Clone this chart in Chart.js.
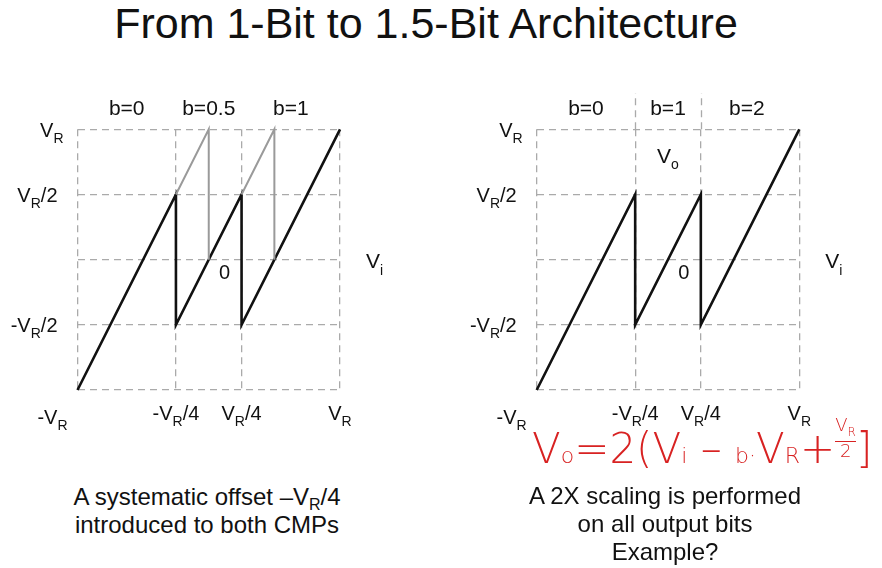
<!DOCTYPE html>
<html lang="en">
<head>
  <meta charset="UTF-8" />
  <title>From 1-Bit to 1.5-Bit Architecture</title>
  <script src="https://cdn.jsdelivr.net/npm/chart.js"></script>
  <style>
    * { margin: 0; padding: 0; box-sizing: border-box; }
    body { width: 882px; height: 568px; background: #fff; font-family: "Liberation Sans", Arial, sans-serif; color: #111; position: relative; overflow: hidden; }
    .title { position: absolute; left: 0; top: -1px; width: 852px; text-align: center; font-size: 43px; line-height: 48px; }
    .box { position: absolute; top: 85px; width: 441px; height: 350px; }
    .box.left { left: 0; }
    .box.right { left: 441px; }
    .caption { position: absolute; width: 420px; text-align: center; font-size: 24px; line-height: 28px; }
    .caption sub { font-size: 16px; vertical-align: -5px; line-height: 0; }
    .cap-left { left: -3px; top: 483px; }
    .cap-right { left: 455px; top: 482px; }
    .ink { position: absolute; left: 532px; top: 416px; color: #d82222; font-family: "DejaVu Sans", sans-serif; font-weight: 300; white-space: nowrap; }
    .ink .big { font-size: 42px; }
    .ink .sm { font-size: 22px; }
    .ink .frac { display: inline-block; vertical-align: 6px; font-size: 18px; line-height: 18px; text-align: center; }
    .ink .frac .den { display: block; border-top: 1.5px solid #d82222; }
  </style>
</head>
<body>
  <div class="title">From 1-Bit to 1.5-Bit Architecture</div>
  <div class="box left"><canvas id="leftChart"></canvas></div>
  <div class="box right"><canvas id="rightChart"></canvas></div>
  <div class="ink"><span class="big">V</span><span class="sm">o</span><span class="big">=2(V</span><span class="sm">i</span><span class="big"> – </span><span class="sm">b·</span><span class="big">V</span><span class="sm">R</span><span class="big">+</span><span class="frac">V<sub style="font-size:12px">R</sub><span class="den">2</span></span><span class="big">]</span></div>
  <div class="caption cap-left">A systematic offset –V<sub>R</sub>/4<br>introduced to both CMPs</div>
  <div class="caption cap-right">A 2X scaling is performed<br>on all output bits<br>Example?</div>
  <script>
    // axis ticks and their labels ("_R" means subscript R)
    const xTicks = [-1, -0.25, 0.25, 1];
    const xTickLabels = ['-V_R', '-V_R/4', 'V_R/4', 'V_R'];
    const yTicks = [-1, -0.5, 0, 0.5, 1];
    const yTickLabels = ['', '-V_R/2', '', 'V_R/2', 'V_R'];

    // 1.5-bit residue curve (black)
    const residueX = [-1, -0.25, -0.25, 0.25, 0.25, 1];
    const residueY = [-1, 0.5, -0.5, 0.5, -0.5, 1];

    // original 1-bit ramps (grey, left chart only)
    const rampAX = [-0.25, 0, 0];
    const rampBX = [0.25, 0.5, 0.5];
    const rampY = [0.5, 1, 0];

    // region labels above each chart
    const leftBits = ['b=0', 'b=0.5', 'b=1'];
    const leftBitsX = [-0.625, 0, 0.625];
    const rightBits = ['b=0', 'b=1', 'b=2'];
    const rightBitsX = [-0.625, 0, 0.6];

    const pts = (xs, ys) => xs.map((x, i) => ({ x: x, y: ys[i] }));

    function drawRich(ctx, text, x, y, align, size) {
      const parts = [];
      for (let i = 0; i < text.length; i++) {
        if (text[i] === '_') { parts.push({ t: text[i + 1], sub: true }); i++; }
        else if (parts.length && !parts[parts.length - 1].sub) parts[parts.length - 1].t += text[i];
        else parts.push({ t: text[i], sub: false });
      }
      const subSize = Math.round(size * 0.68);
      let w = 0;
      parts.forEach(p => { ctx.font = (p.sub ? subSize : size) + 'px "Liberation Sans", Arial'; p.w = ctx.measureText(p.t).width; w += p.w; });
      let cx = align === 'right' ? x - w : align === 'center' ? x - w / 2 : x;
      ctx.textAlign = 'left';
      ctx.textBaseline = 'alphabetic';
      parts.forEach(p => {
        ctx.font = (p.sub ? subSize : size) + 'px "Liberation Sans", Arial';
        ctx.fillText(p.t, cx, y + size * 0.36 + (p.sub ? size * 0.3 : 0));
        cx += p.w;
      });
    }

    const labelPlugin = {
      id: 'labels',
      afterDraw(chart, args, opts) {
        const ctx = chart.ctx, a = chart.chartArea;
        const xs = chart.scales.x, ys = chart.scales.y;
        ctx.save();
        ctx.fillStyle = '#111';
        if (opts.extend) {
          ctx.strokeStyle = '#aaa'; ctx.lineWidth = 1.3; ctx.setLineDash([7, 5]);
          [-0.25, 0.25].forEach(v => {
            const px = Math.round(xs.getPixelForValue(v)) + 0.5;
            ctx.beginPath(); ctx.moveTo(px, a.top); ctx.lineTo(px, 8); ctx.stroke();
          });
          ctx.setLineDash([]);
        }
        yTicks.forEach((v, i) => {
          if (!yTickLabels[i]) return;
          const gap = v === 1 ? 14 : 20;
          drawRich(ctx, yTickLabels[i], a.left - gap, ys.getPixelForValue(v), 'right', 20);
        });
        xTicks.forEach((v, i) => {
          const px = xs.getPixelForValue(v);
          if (i === 0) drawRich(ctx, xTickLabels[i], px - 10, a.bottom + 27, 'right', 20);
          else drawRich(ctx, xTickLabels[i], px, a.bottom + 23, 'center', 20);
        });
        opts.bits.forEach((b, i) => drawRich(ctx, b, xs.getPixelForValue(opts.bitsX[i]), a.top - 22, 'center', 21));
        drawRich(ctx, '0', xs.getPixelForValue(0.12), ys.getPixelForValue(-0.09), 'center', 20);
        drawRich(ctx, 'V_i', a.right + 26, ys.getPixelForValue(0) + 1, 'left', 21);
        if (opts.vo) drawRich(ctx, 'V_o', xs.getPixelForValue(0), ys.getPixelForValue(0.8), 'center', 21);
        ctx.restore();
      }
    };

    function scaleOpts(ticks) {
      return {
        type: 'linear', min: -1, max: 1,
        afterBuildTicks: s => { s.ticks = ticks.map(v => ({ value: v })); },
        ticks: { display: false },
        grid: { color: '#aaa', lineWidth: 1.3, drawTicks: false },
        border: { display: false, dash: [7, 5] }
      };
    }

    function makeChart(id, datasets, padding, extra) {
      return new Chart(document.getElementById(id), {
        type: 'scatter',
        data: { datasets: datasets },
        options: {
          responsive: true, maintainAspectRatio: false, animation: false,
          layout: { padding: padding },
          scales: { x: scaleOpts(xTicks), y: scaleOpts(yTicks) },
          plugins: { legend: { display: false }, tooltip: { enabled: false }, labels: extra }
        },
        plugins: [labelPlugin]
      });
    }

    const line = (data, color, width) => ({ data: data, showLine: true, borderColor: color, borderWidth: width, pointRadius: 0, clip: false });

    makeChart('leftChart', [
      line(pts(rampAX, rampY), '#9a9a9a', 2),
      line(pts(rampBX, rampY), '#9a9a9a', 2),
      line(pts(residueX, residueY), '#111', 2.6)
    ], { left: 77.5, right: 101, top: 44.3, bottom: 45 }, { bits: leftBits, bitsX: leftBitsX, vo: false, extend: false });

    makeChart('rightChart', [
      line(pts(residueX, residueY), '#111', 2.6)
    ], { left: 95.7, right: 82.7, top: 44.3, bottom: 45 }, { bits: rightBits, bitsX: rightBitsX, vo: true, extend: true });
  </script>
</body>
</html>
